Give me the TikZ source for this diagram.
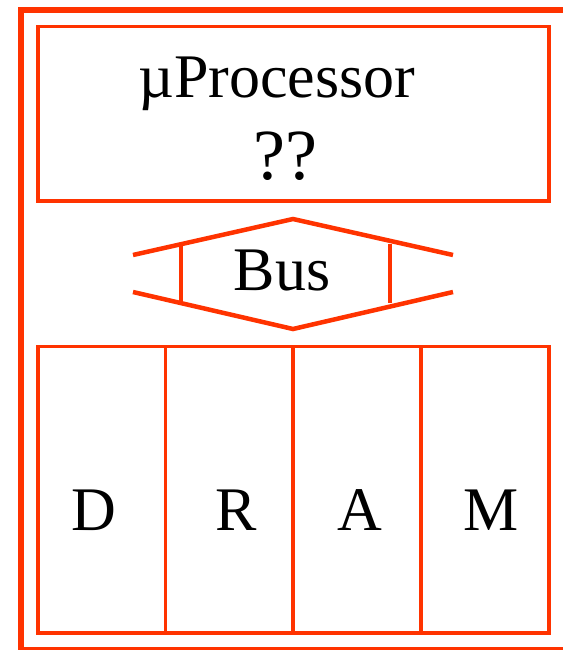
\documentclass[tikz,border=0pt]{standalone}
\usepackage{fontspec}
\setmainfont{Liberation Serif}
\definecolor{frame}{RGB}{255,51,0}
\begin{document}
\begin{tikzpicture}[x=1pt,y=-1pt,
  outer/.style={draw=frame,line width=6pt},
  boxline/.style={draw=frame,line width=3.8pt},
  busline/.style={draw=frame,line width=4.5pt},
  lbl/.style={anchor=base,inner sep=0pt,text=black}]
\useasboundingbox (0,0) rectangle (562,650);
% outer frame
\draw[outer] (575,10) -- (21,10) -- (21,649.5) -- (575,649.5);
% processor box
\draw[boxline] (38,26.5) rectangle (549,201);
\node[lbl,font=\fontsize{62}{70}\selectfont] (proc) at (277,98) {µProcessor};
\node[lbl,font=\fontsize{72}{80}\selectfont] (qq) at (285,179) {??};
% bus
\coordinate (tl) at (133,255);
\coordinate (tr) at (453,255);
\coordinate (bl) at (133,292);
\coordinate (br) at (453,292);
\coordinate (ta) at (293,219);
\coordinate (ba) at (293,329);
\coordinate (v1t) at (181,244);
\coordinate (v1b) at (181,303);
\coordinate (v2t) at (390,244);
\coordinate (v2b) at (390,303);
\draw[busline] (tl) -- (ta) -- (tr);
\draw[busline] (bl) -- (ba) -- (br);
\draw[busline] (v1t) -- (v1b);
\draw[busline] (v2t) -- (v2b);
\node[lbl,font=\fontsize{62}{70}\selectfont] (bus) at (282,290) {Bus};
% DRAM
\draw[boxline] (38,346.5) rectangle (549,633);
\draw[boxline] (165.5,346.5) -- (165.5,633);
\draw[boxline] (293,346.5) -- (293,633);
\draw[boxline] (421,346.5) -- (421,633);
\node[lbl,font=\fontsize{62}{70}\selectfont] (d) at (94,530) {D};
\node[lbl,font=\fontsize{62}{70}\selectfont] (r) at (236,530) {R};
\node[lbl,font=\fontsize{62}{70}\selectfont] (a) at (360,530) {A};
\node[lbl,font=\fontsize{62}{70}\selectfont] (m) at (491,530) {M};
\end{tikzpicture}
\end{document}
